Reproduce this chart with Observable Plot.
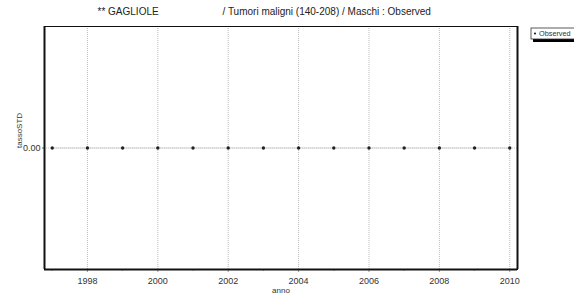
<!DOCTYPE html>
<html><head><meta charset="utf-8">
<script src="https://cdn.jsdelivr.net/npm/d3@7"></script>
<script src="https://cdn.jsdelivr.net/npm/@observablehq/plot@0.6"></script>
<style>
html,body{margin:0;padding:0;background:#fff;}
svg{display:block;font-family:"Liberation Sans",Arial,sans-serif;}
</style></head>
<body><div id="chart"></div>
<script>
const years = [1997,1998,1999,2000,2001,2002,2003,2004,2005,2006,2007,2008,2009,2010];
const observed = [0,0,0,0,0,0,0,0,0,0,0,0,0,0];
const xTicks = [1998,2000,2002,2004,2006,2008,2010];
const xMinorTicks = [1997,1999,2001,2003,2005,2007,2009];
const yTicks = [0];
const titleLeft = "** GAGLIOLE";
const titleRight = "/ Tumori maligni (140-208) / Maschi : Observed";
const seriesName = "Observed";
const xLabel = "anno";
const yLabel = "tassoSTD";

const data = years.map((y,i)=>({anno:y, tasso:observed[i]}));
const xDom = [1996.78, 2010.22];
const yDom = [-1, 1];

const plot = Plot.plot({
  width: 574, height: 298,
  marginLeft: 44, marginRight: 57, marginTop: 26, marginBottom: 29,
  style: {fontFamily: '"Liberation Sans", Arial, sans-serif', fontSize: "9px", color: "#333", background: "#fff"},
  x: {domain: xDom, label: null},
  y: {domain: yDom, label: null},
  marks: [
    Plot.ruleX(xTicks, {stroke: "#bbb", strokeDasharray: "1,1", strokeWidth: 1}),
    Plot.ruleY(yTicks, {stroke: "#ccc", strokeDasharray: "1,1"}),
    Plot.axisX({ticks: xTicks, tickFormat: "d", tickSize: 3, tickPadding: 5, stroke:"#999", fill:"#333", fontSize: 9}),
    Plot.axisX({ticks: xMinorTicks, tickFormat: ()=>"", tickSize: 2, stroke:"#aaa"}),
    Plot.axisY({ticks: yTicks, tickFormat: ".2f", tickSize: 2, tickPadding: 2, stroke:"#666", fill:"#333", fontSize: 9}),
    Plot.line(data, {x:"anno", y:"tasso", stroke:"#d0d0d0", strokeWidth:1}),
    Plot.dot(data, {x:"anno", y:"tasso", r:1.7, fill:"#222", stroke:"none"}),
    Plot.frame({stroke:"#111", strokeWidth:1}),
    Plot.ruleX([xDom[0]], {stroke:"#111", strokeWidth:2}),
    Plot.ruleX([xDom[1]], {stroke:"#111", strokeWidth:2}),
    Plot.ruleY([yDom[0]], {stroke:"#111", strokeWidth:2}),
    Plot.text([titleLeft], {frameAnchor:"top-left", dx: 97-44, dy: -19, fontSize: 10, fill:"#222", textAnchor:"start"}),
    Plot.text([titleRight], {frameAnchor:"top-left", dx: 222-44, dy: -19, fontSize: 10, fill:"#222", textAnchor:"start"}),
    Plot.text([xLabel], {frameAnchor:"bottom", dx: 0, dy: 23, fontSize: 8, fill:"#333"}),
    Plot.text([yLabel], {frameAnchor:"left", dx: -25, rotate: -90, fontSize: 8, fill:"#333"})
  ]
});
document.getElementById("chart").appendChild(plot);

// legend box
const svg = d3.select(plot);
const lg = svg.append("g").attr("transform","translate(531,28)");
lg.append("rect").attr("x",2).attr("y",2).attr("width",60).attr("height",12).attr("fill","#000");
lg.append("rect").attr("x",0).attr("y",0).attr("width",60).attr("height",11).attr("fill","#fff").attr("stroke","#333").attr("stroke-width",0.8);
lg.append("circle").attr("cx",4).attr("cy",5.5).attr("r",1.1).attr("fill","#222");
lg.append("text").attr("x",8).attr("y",8.3).attr("font-size",7.3).attr("fill","#333").attr("text-anchor","start").text(seriesName);
</script></body></html>
